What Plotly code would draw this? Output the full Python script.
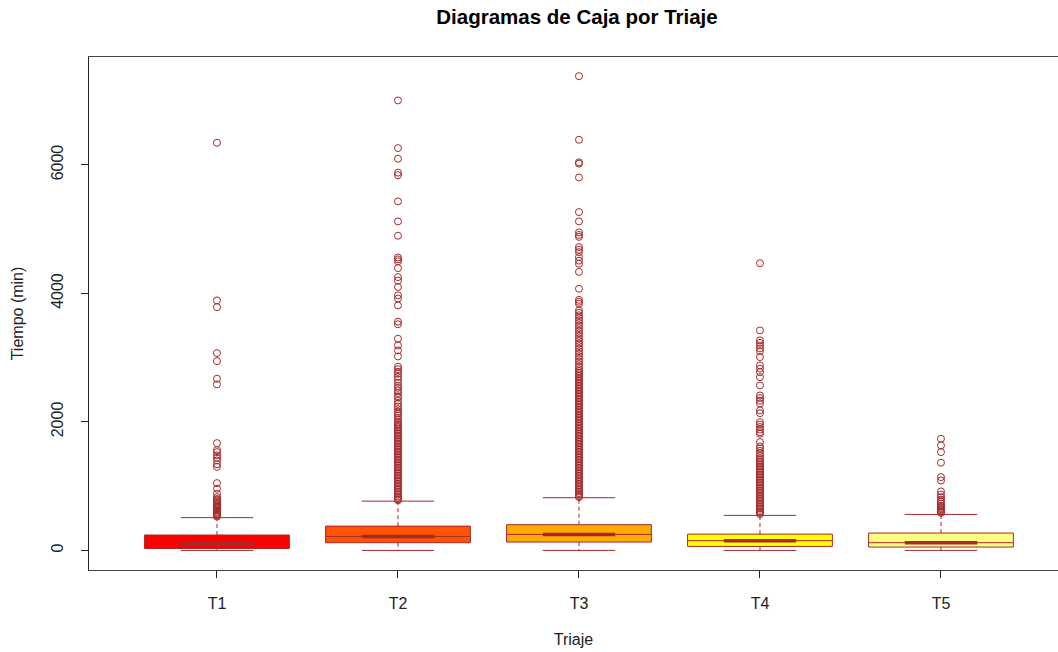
import plotly.graph_objects as go

# ---------------- data ----------------
categories = ["T1", "T2", "T3", "T4", "T5"]
fill_colors = ["#FF0000", "#FF5500", "#FFAA00", "#FFFF00", "#FFFF80"]

q1_vals = [30, 120, 130, 62, 52]
median_vals = [110, 218, 249, 151, 120]
q3_vals = [240, 378, 400, 254, 270]
lower_whisker = [0, 0, 0, 0, 0]
upper_whisker = [510, 767, 820, 545, 560]

outliers_t1 = [6345, 3891, 3787, 3071, 2946, 2672, 2584, 1670, 1560, 1530, 1480,
               1440, 1400, 1340, 1300, 1048, 960, 882, 830, 800, 780, 760, 740,
               720, 700, 680, 660, 640, 620, 600, 585, 570, 555, 540, 525]

outliers_t2 = [7004, 6262, 6096, 5880, 5840, 5432, 5121, 4898, 4560, 4530, 4500,
               4394, 4254, 4200, 4099, 3970, 3920, 3813, 3560, 3520, 3295, 3191,
               3113, 3019, 2860, 2820, 2780, 2750, 2700, 2660, 2610, 2560, 2530,
               2490, 2450, 2400, 2380, 2330, 2280, 2240, 2200, 2160, 2130, 2100,
               2060, 2030, 1990, 1965, 1940, 1915, 1890, 1865, 1840, 1815, 1790,
               1765, 1740, 1715, 1690, 1665, 1640, 1615, 1590, 1565, 1540, 1515,
               1490, 1465, 1440, 1415, 1390, 1365, 1340, 1315, 1290, 1265, 1240,
               1215, 1190, 1165, 1140, 1115, 1090, 1065, 1040, 1015, 990, 965,
               940, 915, 890, 865, 840, 815, 795, 780]

outliers_t3 = [7382, 6392, 6040, 6020, 5805, 5266, 5121, 4950, 4910, 4880, 4721,
               4680, 4643, 4566, 4510, 4462, 4335, 4073, 3900, 3870, 3840, 3735,
               3700, 3660, 3620, 3580, 3540, 3500, 3460, 3420, 3380, 3340, 3300,
               3260, 3220, 3180, 3140, 3100, 3060, 3020, 2980, 2940, 2900, 2860,
               2820, 2790, 2765, 2740, 2715, 2690, 2665, 2640, 2615, 2590, 2565,
               2540, 2515, 2490, 2465, 2440, 2415, 2390, 2365, 2340, 2315, 2290,
               2265, 2240, 2215, 2190, 2165, 2140, 2115, 2090, 2065, 2040, 2015,
               1990, 1965, 1940, 1915, 1890, 1865, 1840, 1815, 1790, 1765, 1740,
               1715, 1690, 1665, 1640, 1615, 1590, 1565, 1540, 1515, 1490, 1465,
               1440, 1415, 1390, 1365, 1340, 1315, 1290, 1265, 1240, 1215, 1190,
               1165, 1140, 1115, 1090, 1065, 1040, 1015, 990, 965, 940, 915, 890,
               865, 845, 830]

outliers_t4 = [4470, 3424, 3270, 3230, 3190, 3144, 3100, 3009, 2879, 2830, 2775,
               2697, 2568, 2412, 2370, 2330, 2288, 2179, 2137, 1997, 1960, 1920,
               1880, 1840, 1816, 1686, 1620, 1587, 1550, 1510, 1470, 1432, 1405,
               1380, 1355, 1330, 1305, 1280, 1255, 1230, 1205, 1180, 1155, 1130,
               1105, 1080, 1055, 1030, 1005, 980, 955, 930, 905, 880, 855, 830,
               805, 780, 755, 730, 705, 680, 655, 630, 605, 585, 565]

outliers_t5 = [1738, 1634, 1530, 1365, 1141, 1089, 918, 870, 830, 790, 760, 731,
               700, 680, 659, 640, 622, 600, 585]

outliers = [outliers_t1, outliers_t2, outliers_t3, outliers_t4, outliers_t5]

y_tick_vals = [0, 2000, 4000, 6000]

# ---------------- figure ----------------
BROWN = "#A52A2A"
fig = go.Figure()

positions = list(range(1, len(categories) + 1))
half_box = 0.4
half_staple = 0.2

for i, cat in enumerate(categories):
    x = positions[i]
    # box (quartiles only, whiskers drawn separately as dashed lines)
    fig.add_trace(go.Box(
        x=[x], q1=[q1_vals[i]], median=[median_vals[i]], q3=[q3_vals[i]],
        lowerfence=[q1_vals[i]], upperfence=[q3_vals[i]],
        width=2 * half_box, whiskerwidth=0,
        fillcolor=fill_colors[i], line=dict(color=BROWN, width=1),
        showlegend=False, hoverinfo="skip", name=cat,
    ))
    # dashed whiskers
    for a, b in ((q3_vals[i], upper_whisker[i]), (q1_vals[i], lower_whisker[i])):
        fig.add_trace(go.Scatter(
            x=[x, x], y=[a, b], mode="lines",
            line=dict(color=BROWN, width=1, dash="4px,3px"),
            showlegend=False, hoverinfo="skip"))
    # staples
    for w in (upper_whisker[i], lower_whisker[i]):
        fig.add_trace(go.Scatter(
            x=[x - half_staple, x + half_staple], y=[w, w], mode="lines",
            line=dict(color=BROWN, width=1),
            showlegend=False, hoverinfo="skip"))
    # thick median
    fig.add_trace(go.Scatter(
        x=[x - half_staple, x + half_staple], y=[median_vals[i], median_vals[i]],
        mode="lines", line=dict(color=BROWN, width=3.5),
        showlegend=False, hoverinfo="skip"))
    # outliers
    fig.add_trace(go.Scatter(
        x=[x] * len(outliers[i]), y=outliers[i], mode="markers",
        marker=dict(symbol="circle-open", size=7, color=BROWN,
                    line=dict(width=1, color=BROWN)),
        showlegend=False, hoverinfo="y"))

FONT = "Liberation Sans, Arial, sans-serif"
fig.update_layout(
    width=1058, height=652,
    margin=dict(l=89, r=0, t=57, b=82, autoexpand=False),
    plot_bgcolor="white", paper_bgcolor="white",
    font=dict(family=FONT, size=16, color="#222222"),
    title=dict(text="<b>Diagramas de Caja por Triaje</b>",
               x=577 / 1058, xref="container", xanchor="center",
               y=1 - 17 / 652, yref="container", yanchor="middle",
               font=dict(family=FONT, size=20.5, color="black")),
    xaxis=dict(
        range=[0.293, 0.293 + 969 / 181],
        tickvals=positions, ticktext=categories,
        showgrid=False, zeroline=False, automargin=False,
        showline=True, linecolor="#444444", linewidth=1, mirror=True,
        ticks="outside", ticklen=7, tickcolor="#222222",
        ticklabelstandoff=12,
        title=dict(text="Triaje", standoff=22, font=dict(size=16)),
    ),
    yaxis=dict(
        range=[-305, 7680],
        tickvals=y_tick_vals, ticktext=[str(v) for v in y_tick_vals],
        tickangle=-90,
        showgrid=False, zeroline=False, automargin=False,
        showline=True, linecolor="#222222", linewidth=1, mirror=False,
        ticks="outside", ticklen=7, tickcolor="#222222",
        ticklabelstandoff=12,
        title=dict(text="Tiempo (min)", standoff=20, font=dict(size=16)),
    ),
)

fig.write_html("out.html", config={"displayModeBar": False},
               post_script="document.body.style.margin='0';document.body.style.padding='0';")
